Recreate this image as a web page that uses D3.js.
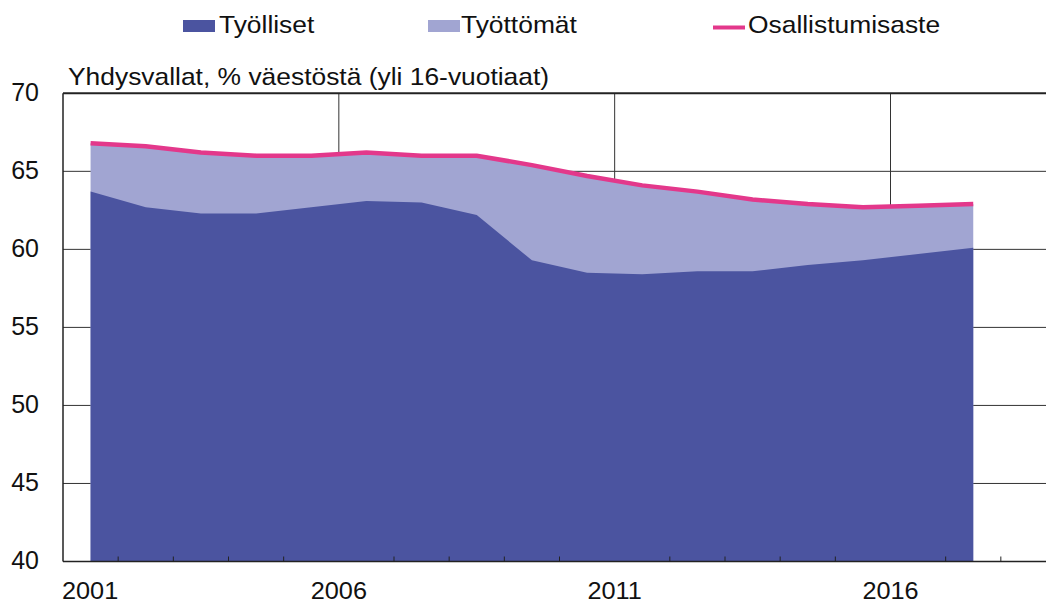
<!DOCTYPE html>
<html><head><meta charset="utf-8">
<script src="https://cdn.jsdelivr.net/npm/d3@7"></script>
<style>body{margin:0;background:#fff}svg{display:block;font-family:"Liberation Sans",Arial,sans-serif}</style>
</head><body><svg id="c" width="1046" height="604"></svg>
<script>
const years = [2001,2002,2003,2004,2005,2006,2007,2008,2009,2010,2011,2012,2013,2014,2015,2016,2017];
const employed = [63.7,62.7,62.3,62.3,62.7,63.1,63.0,62.2,59.3,58.5,58.4,58.6,58.6,59.0,59.3,59.7,60.1];
const participation = [66.8,66.6,66.2,66.0,66.0,66.2,66.0,66.0,65.4,64.7,64.1,63.7,63.2,62.9,62.7,62.8,62.9];
const yTicks = [40,45,50,55,60,65,70];
const xLabels = [2001,2006,2011,2016];
const minorTicks = [2002,2003,2004,2005,2007,2008,2009,2010,2012,2013,2014,2015,2017,2018];
const seriesNames = ["Työlliset","Työttömät","Osallistumisaste"];
const title = "Yhdysvallat, % väestöstä (yli 16-vuotiaat)";

const cDark = "#4b54a0", cLight = "#a1a5d2", cPink = "#e3388b";
const svg = d3.select("#c");
const x = d3.scaleLinear().domain([2001,2019]).range([63,1056]);
const y = d3.scaleLinear().domain([40,70]).range([561.5,93.3]);
const xm = d => x(d + 0.5);
const SX = 1.1;
function txt(px, py, s, size, anchor, sx) {
  return svg.append("text")
    .attr("transform", `translate(${px},${py}) scale(${sx},1)`)
    .attr("text-anchor", anchor || "start")
    .attr("font-size", size).attr("fill", "#111").text(s);
}

// gridlines
const g = svg.append("g");
g.selectAll("line.h").data(yTicks.filter(v => v > 40 && v < 70)).enter().append("line")
  .attr("x1", x(2001)).attr("x2", 1046).attr("y1", d => y(d)).attr("y2", d => y(d))
  .attr("stroke", "#333").attr("stroke-width", 1);
g.selectAll("line.v").data(xLabels.slice(1)).enter().append("line")
  .attr("x1", d => x(d)).attr("x2", d => x(d)).attr("y1", y(70)).attr("y2", y(40))
  .attr("stroke", "#333").attr("stroke-width", 1);

// areas
const idx = d3.range(years.length);
svg.append("path").datum(idx)
  .attr("d", d3.area().x(i => xm(years[i])).y0(y(40)).y1(i => y(participation[i])))
  .attr("fill", cLight);
svg.append("path").datum(idx)
  .attr("d", d3.area().x(i => xm(years[i])).y0(y(40)).y1(i => y(employed[i])))
  .attr("fill", cDark);
svg.append("path").datum(idx)
  .attr("d", d3.line().x(i => xm(years[i])).y(i => y(participation[i])))
  .attr("fill", "none").attr("stroke", cPink).attr("stroke-width", 4.5);

// frame
svg.append("line").attr("x1", x(2001)).attr("x2", 1046).attr("y1", y(70)).attr("y2", y(70)).attr("stroke", "#222").attr("stroke-width", 2);
svg.append("line").attr("x1", x(2001)).attr("x2", 1046).attr("y1", y(40)).attr("y2", y(40)).attr("stroke", "#222").attr("stroke-width", 1.5);
svg.append("line").attr("x1", x(2001)).attr("x2", x(2001)).attr("y1", y(70)).attr("y2", y(40)).attr("stroke", "#222").attr("stroke-width", 1.5);

// minor ticks
svg.selectAll("line.t").data(minorTicks).enter().append("line")
  .attr("x1", d => x(d)).attr("x2", d => x(d)).attr("y1", y(40)).attr("y2", y(40) - 5)
  .attr("stroke", "#222").attr("stroke-width", 1);

// y labels
yTicks.forEach(v => txt(39, y(v) + 7.5, v, 25, "end", 1));
// x labels
xLabels.forEach((v, i) => {
  if (i === 0) txt(x(v) - 1, 599, v, 23, "start", SX);
  else txt(x(v), 599, v, 23, "middle", SX);
});

// title
txt(68, 85, title, 24, "start", SX);

// legend
const lg = [{x:183, type:"rect", c:cDark, tx:219},{x:428, type:"rect", c:cLight, tx:461},{x:713, type:"line", c:cPink, tx:748}];
lg.forEach((l, i) => {
  if (l.type === "rect") svg.append("rect").attr("x", l.x).attr("y", 20).attr("width", 32).attr("height", 12).attr("fill", l.c);
  else svg.append("line").attr("x1", l.x).attr("x2", l.x + 32).attr("y1", 27.5).attr("y2", 27.5).attr("stroke", l.c).attr("stroke-width", 4);
  txt(l.tx, 33, seriesNames[i], 24, "start", SX);
});
</script></body></html>
